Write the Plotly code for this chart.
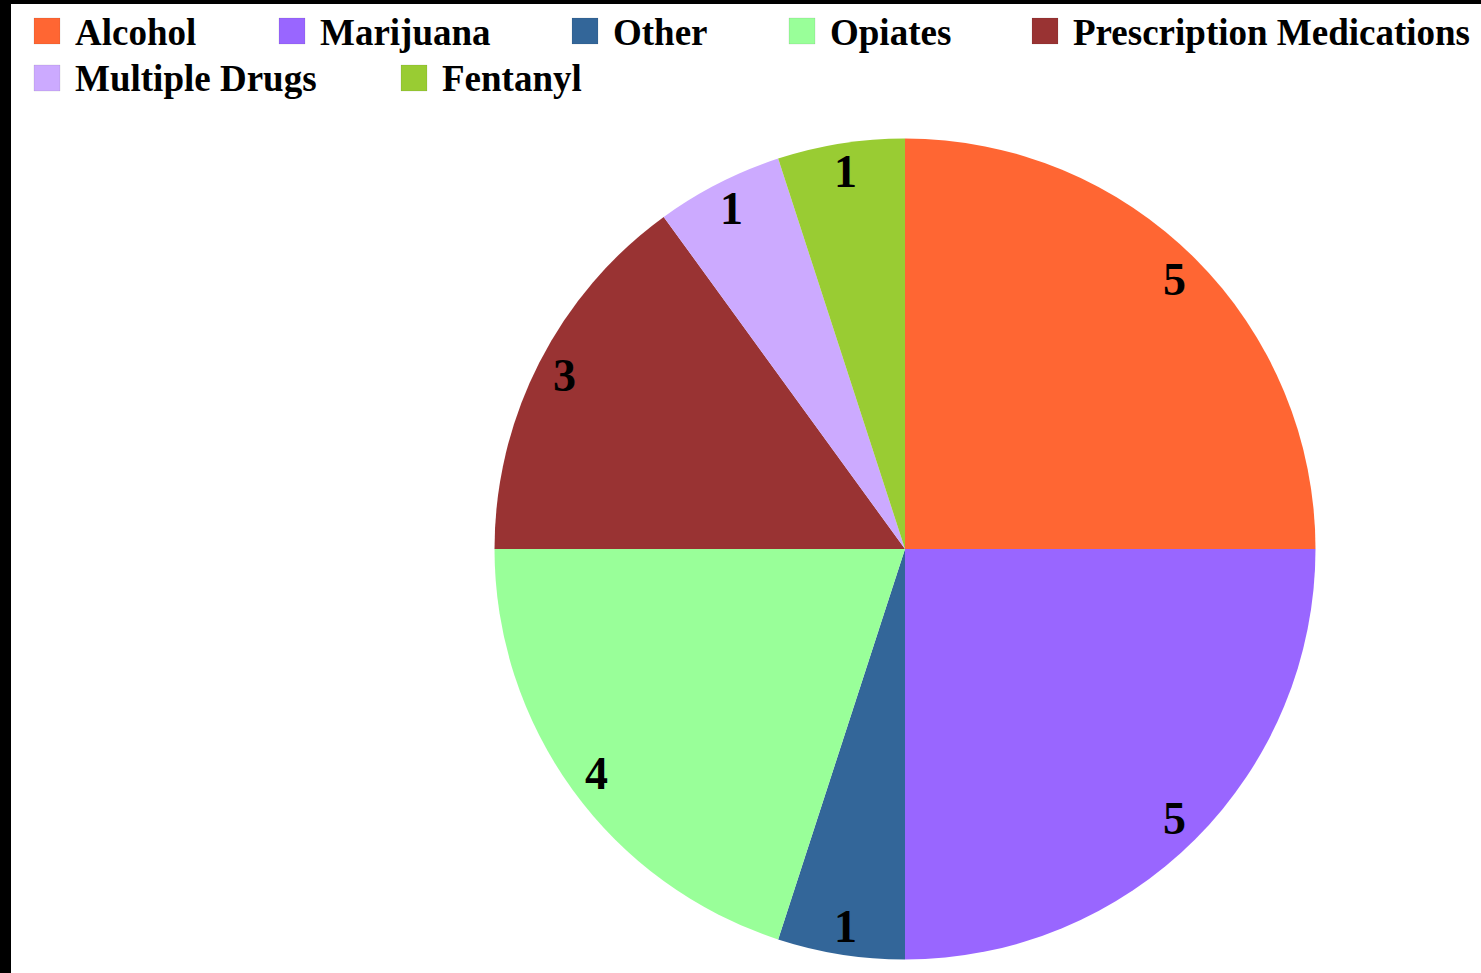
import math
import plotly.graph_objects as go

# ---- data ----
categories = ["Alcohol", "Marijuana", "Other", "Opiates",
              "Prescription Medications", "Multiple Drugs", "Fentanyl"]
values = [5, 5, 1, 4, 3, 1, 1]
colors = ["#FF6633", "#9966FF", "#336699", "#99FF99",
          "#993333", "#CCAAFF", "#99CC33"]

# ---- layout constants ----
W, H = 1481, 973
CX, CY, R = 905, 549, 410.5          # pie centre / radius in px
LABEL_R = 0.93                       # label radius as fraction of R
FONT = "Liberation Serif, Times New Roman, serif"

# legend layout (px): swatch left x and row for each category
legend_x = [34, 279, 572, 789, 1032, 34, 401]
legend_row = [0, 0, 0, 0, 0, 1, 1]
row_top = [18, 65]
SW = 26

def px(x):
    return x / W

def py(y):
    return 1 - y / H

fig = go.Figure()
fig.add_trace(go.Pie(
    labels=categories,
    values=values,
    marker=dict(colors=colors, line=dict(width=0)),
    sort=False,
    direction="clockwise",
    rotation=0,
    textinfo="none",
    hoverinfo="label+value",
    showlegend=False,
    domain=dict(x=[px(CX - R), px(CX + R)], y=[py(CY + R), py(CY - R)]),
))

annotations = []
shapes = []

# value labels inside slices
total = sum(values)
cum = 0
for v in values:
    theta = 2 * math.pi * (cum + v / 2) / total
    cum += v
    lx = CX + R * LABEL_R * math.sin(theta)
    ly = CY - R * LABEL_R * math.cos(theta)
    annotations.append(dict(
        x=px(lx), y=py(ly), xref="paper", yref="paper",
        text=str(v), showarrow=False, xanchor="center", yanchor="middle",
        font=dict(family=FONT, size=46, color="black", weight="bold"),
    ))

# manual legend
for name, col, lx, row in zip(categories, colors, legend_x, legend_row):
    top = row_top[row]
    shapes.append(dict(
        type="rect", xref="paper", yref="paper",
        x0=px(lx), x1=px(lx + SW), y0=py(top + SW), y1=py(top),
        fillcolor=col, line=dict(width=1, color="rgba(0,0,0,0.08)"),
    ))
    annotations.append(dict(
        x=px(lx + SW + 13), y=py(top + SW / 2 + 1), xref="paper", yref="paper",
        text=name, showarrow=False, xanchor="left", yanchor="middle",
        font=dict(family=FONT, size=37, color="black", weight="bold"),
    ))

# black frame edges (left and top)
shapes.append(dict(type="rect", xref="paper", yref="paper", x0=0, x1=px(11),
                   y0=0, y1=1, fillcolor="black", line=dict(width=0), layer="above"))
shapes.append(dict(type="rect", xref="paper", yref="paper", x0=0, x1=1,
                   y0=py(4), y1=1, fillcolor="black", line=dict(width=0), layer="above"))

fig.update_layout(
    width=W, height=H,
    margin=dict(l=0, r=0, t=0, b=0),
    paper_bgcolor="white", plot_bgcolor="white",
    annotations=annotations, shapes=shapes,
    showlegend=False,
)

fig.write_html("out.html", config={"displayModeBar": False},
               post_script="document.body.style.margin='0';document.body.style.overflow='hidden';")
